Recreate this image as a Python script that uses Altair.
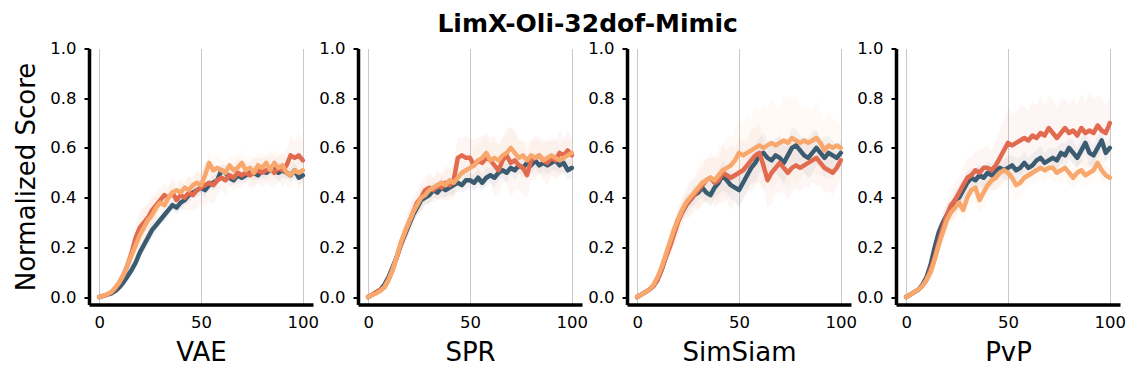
import altair as alt
import pandas as pd

steps = list(range(0, 101, 2))
panels = ["VAE", "SPR", "SimSiam", "PvP"]
methods = ["Baseline", "Variant A", "Variant B"]
palette = ["#3b5b71", "#e26a4e", "#f8a86c"]

# mean curves (one value every 2 steps)
vae_base = [0.00, 0.005, 0.01, 0.015, 0.025, 0.04, 0.06, 0.085, 0.11, 0.14,
            0.18, 0.21, 0.24, 0.27, 0.29, 0.31, 0.33, 0.35, 0.37, 0.36,
            0.38, 0.39, 0.41, 0.42, 0.43, 0.44, 0.43, 0.45, 0.46, 0.47,
            0.51, 0.50, 0.48, 0.47, 0.49, 0.48, 0.49, 0.50, 0.50, 0.49,
            0.51, 0.50, 0.51, 0.52, 0.50, 0.51, 0.50, 0.49, 0.51, 0.48,
            0.49]
vae_a = [0.00, 0.005, 0.01, 0.02, 0.035, 0.06, 0.09, 0.13, 0.18, 0.24,
         0.28, 0.30, 0.32, 0.35, 0.37, 0.39, 0.41, 0.40, 0.42, 0.39,
         0.41, 0.40, 0.42, 0.41, 0.43, 0.44, 0.45, 0.46, 0.45, 0.47,
         0.48, 0.47, 0.49, 0.48, 0.50, 0.49, 0.50, 0.49, 0.50, 0.51,
         0.50, 0.51, 0.52, 0.50, 0.52, 0.51, 0.53, 0.57, 0.56, 0.57,
         0.55]
vae_b = [0.00, 0.005, 0.012, 0.02, 0.04, 0.06, 0.09, 0.13, 0.17, 0.21,
         0.25, 0.28, 0.31, 0.33, 0.36, 0.38, 0.37, 0.40, 0.42, 0.43,
         0.42, 0.44, 0.43, 0.45, 0.46, 0.45, 0.49, 0.54, 0.51, 0.52,
         0.51, 0.50, 0.53, 0.51, 0.52, 0.54, 0.51, 0.52, 0.50, 0.53,
         0.52, 0.54, 0.51, 0.54, 0.52, 0.53, 0.50, 0.49, 0.51, 0.50,
         0.51]

spr_base = [0.00, 0.01, 0.02, 0.03, 0.05, 0.08, 0.12, 0.16, 0.21, 0.25,
            0.29, 0.33, 0.36, 0.39, 0.40, 0.41, 0.43, 0.42, 0.44, 0.43,
            0.44, 0.45, 0.46, 0.45, 0.47, 0.47, 0.46, 0.48, 0.46, 0.48,
            0.49, 0.48, 0.50, 0.51, 0.50, 0.52, 0.51, 0.53, 0.52, 0.54,
            0.53, 0.55, 0.53, 0.54, 0.53, 0.54, 0.55, 0.53, 0.54, 0.51,
            0.52]
spr_a = [0.00, 0.01, 0.02, 0.03, 0.04, 0.07, 0.11, 0.16, 0.21, 0.26,
         0.30, 0.34, 0.38, 0.40, 0.43, 0.44, 0.43, 0.45, 0.44, 0.46,
         0.45, 0.47, 0.56, 0.57, 0.56, 0.56, 0.53, 0.55, 0.54, 0.56,
         0.55, 0.53, 0.51, 0.55, 0.57, 0.54, 0.55, 0.53, 0.52, 0.49,
         0.55, 0.56, 0.57, 0.55, 0.54, 0.56, 0.55, 0.58, 0.57, 0.59,
         0.57]
spr_b = [0.00, 0.01, 0.015, 0.025, 0.04, 0.07, 0.11, 0.16, 0.22, 0.26,
         0.30, 0.34, 0.37, 0.40, 0.41, 0.43, 0.44, 0.45, 0.46, 0.45,
         0.47, 0.46, 0.48, 0.50, 0.51, 0.52, 0.53, 0.55, 0.56, 0.58,
         0.55, 0.56, 0.55, 0.57, 0.58, 0.60, 0.58, 0.56, 0.57, 0.55,
         0.57, 0.56, 0.57, 0.55, 0.56, 0.57, 0.56, 0.55, 0.56, 0.57,
         0.58]

sim_base = [0.00, 0.01, 0.02, 0.03, 0.045, 0.07, 0.11, 0.16, 0.21, 0.26,
            0.31, 0.34, 0.37, 0.39, 0.41, 0.42, 0.44, 0.42, 0.41, 0.44,
            0.46, 0.49, 0.47, 0.45, 0.44, 0.43, 0.46, 0.49, 0.52, 0.54,
            0.57, 0.58, 0.56, 0.55, 0.57, 0.56, 0.54, 0.57, 0.60, 0.61,
            0.59, 0.57, 0.56, 0.58, 0.60, 0.58, 0.56, 0.58, 0.57, 0.56,
            0.58]
sim_a = [0.00, 0.01, 0.02, 0.03, 0.045, 0.07, 0.11, 0.16, 0.20, 0.25,
         0.30, 0.34, 0.37, 0.39, 0.41, 0.43, 0.45, 0.47, 0.48, 0.46,
         0.47, 0.50, 0.49, 0.48, 0.49, 0.50, 0.51, 0.53, 0.55, 0.57,
         0.58, 0.53, 0.47, 0.50, 0.52, 0.54, 0.52, 0.50, 0.52, 0.53,
         0.52, 0.53, 0.54, 0.55, 0.56, 0.54, 0.52, 0.51, 0.50, 0.52,
         0.55]
sim_b = [0.00, 0.01, 0.02, 0.03, 0.05, 0.08, 0.12, 0.17, 0.22, 0.27,
         0.31, 0.35, 0.38, 0.40, 0.42, 0.44, 0.46, 0.47, 0.48, 0.47,
         0.49, 0.51, 0.52, 0.53, 0.55, 0.58, 0.57, 0.58, 0.59, 0.60,
         0.61, 0.60, 0.61, 0.62, 0.61, 0.62, 0.63, 0.62, 0.64, 0.63,
         0.62, 0.63, 0.62, 0.63, 0.64, 0.62, 0.59, 0.61, 0.60, 0.61,
         0.60]

pvp_base = [0.00, 0.01, 0.02, 0.03, 0.05, 0.08, 0.13, 0.20, 0.26, 0.30,
            0.33, 0.36, 0.39, 0.40, 0.43, 0.46, 0.48, 0.47, 0.49, 0.48,
            0.50, 0.49, 0.51, 0.52, 0.51, 0.52, 0.53, 0.51, 0.52, 0.54,
            0.52, 0.53, 0.55, 0.56, 0.54, 0.55, 0.56, 0.55, 0.58, 0.57,
            0.60, 0.58, 0.56, 0.59, 0.62, 0.58, 0.57, 0.60, 0.63, 0.58,
            0.60]
pvp_a = [0.00, 0.01, 0.02, 0.03, 0.045, 0.07, 0.11, 0.16, 0.22, 0.28,
         0.33, 0.37, 0.39, 0.42, 0.45, 0.48, 0.49, 0.51, 0.50, 0.52,
         0.52, 0.51, 0.53, 0.56, 0.59, 0.62, 0.61, 0.62, 0.63, 0.64,
         0.63, 0.65, 0.64, 0.66, 0.65, 0.68, 0.66, 0.64, 0.66, 0.68,
         0.66, 0.67, 0.65, 0.68, 0.66, 0.67, 0.66, 0.69, 0.67, 0.66,
         0.70]
pvp_b = [0.00, 0.01, 0.02, 0.03, 0.045, 0.07, 0.10, 0.15, 0.21, 0.26,
         0.31, 0.34, 0.36, 0.38, 0.35, 0.40, 0.43, 0.44, 0.39, 0.42,
         0.45, 0.47, 0.48, 0.50, 0.51, 0.50, 0.48, 0.45, 0.46, 0.48,
         0.49, 0.50, 0.51, 0.52, 0.51, 0.52, 0.52, 0.50, 0.51, 0.52,
         0.50, 0.48, 0.50, 0.51, 0.49, 0.50, 0.51, 0.54, 0.51, 0.49,
         0.48]

# half-widths of the shaded bands
vae_base_sd = [0, 0, 0.005, 0.01, 0.01, 0.015, 0.02, 0.02, 0.025, 0.03,
               0.03, 0.03, 0.03, 0.03, 0.03, 0.02, 0.03, 0.03, 0.02, 0.03,
               0.03, 0.02, 0.03, 0.02, 0.03, 0.02, 0.03, 0.02, 0.03, 0.03,
               0.02, 0.03, 0.03, 0.02, 0.03, 0.02, 0.03, 0.02, 0.03, 0.02,
               0.03, 0.03, 0.02, 0.03, 0.04, 0.03, 0.02, 0.03, 0.03, 0.03,
               0.03]
vae_a_sd = [0, 0, 0.005, 0.01, 0.015, 0.02, 0.03, 0.04, 0.05, 0.06,
            0.07, 0.06, 0.05, 0.06, 0.05, 0.04, 0.05, 0.04, 0.06, 0.05,
            0.06, 0.05, 0.07, 0.06, 0.08, 0.06, 0.09, 0.07, 0.08, 0.06,
            0.05, 0.06, 0.04, 0.05, 0.06, 0.05, 0.04, 0.05, 0.06, 0.05,
            0.06, 0.05, 0.07, 0.06, 0.05, 0.07, 0.06, 0.08, 0.07, 0.09,
            0.08]
vae_b_sd = [0, 0, 0.005, 0.01, 0.015, 0.02, 0.025, 0.03, 0.04, 0.05,
            0.06, 0.08, 0.07, 0.06, 0.05, 0.06, 0.05, 0.04, 0.05, 0.04,
            0.05, 0.04, 0.05, 0.04, 0.05, 0.04, 0.05, 0.05, 0.04, 0.05,
            0.04, 0.05, 0.04, 0.05, 0.06, 0.05, 0.04, 0.05, 0.06, 0.05,
            0.05, 0.04, 0.05, 0.06, 0.05, 0.04, 0.05, 0.06, 0.05, 0.07,
            0.06]

spr_base_sd = [0, 0, 0.005, 0.01, 0.01, 0.015, 0.02, 0.02, 0.03, 0.03,
               0.03, 0.03, 0.03, 0.04, 0.03, 0.04, 0.03, 0.03, 0.04, 0.03,
               0.03, 0.04, 0.03, 0.03, 0.04, 0.03, 0.03, 0.04, 0.03, 0.04,
               0.03, 0.04, 0.03, 0.03, 0.04, 0.03, 0.04, 0.03, 0.04, 0.03,
               0.04, 0.03, 0.04, 0.03, 0.04, 0.03, 0.04, 0.03, 0.04, 0.04,
               0.04]
spr_a_sd = [0, 0, 0.005, 0.01, 0.015, 0.02, 0.03, 0.03, 0.04, 0.05,
            0.05, 0.06, 0.05, 0.06, 0.05, 0.06, 0.05, 0.06, 0.05, 0.07,
            0.06, 0.07, 0.08, 0.07, 0.09, 0.08, 0.10, 0.09, 0.11, 0.10,
            0.09, 0.12, 0.10, 0.09, 0.11, 0.14, 0.12, 0.10, 0.11, 0.09,
            0.08, 0.09, 0.07, 0.08, 0.09, 0.07, 0.08, 0.09, 0.07, 0.08,
            0.07]
spr_b_sd = [0, 0, 0.005, 0.01, 0.015, 0.02, 0.03, 0.03, 0.04, 0.04,
            0.05, 0.05, 0.04, 0.05, 0.04, 0.05, 0.04, 0.05, 0.04, 0.05,
            0.05, 0.06, 0.05, 0.06, 0.07, 0.06, 0.07, 0.06, 0.08, 0.07,
            0.06, 0.07, 0.06, 0.08, 0.07, 0.09, 0.08, 0.07, 0.06, 0.07,
            0.06, 0.07, 0.06, 0.07, 0.06, 0.08, 0.07, 0.06, 0.07, 0.06,
            0.06]

sim_base_sd = [0, 0, 0.005, 0.01, 0.01, 0.015, 0.02, 0.02, 0.03, 0.03,
               0.03, 0.03, 0.04, 0.03, 0.04, 0.03, 0.04, 0.04, 0.05, 0.04,
               0.05, 0.06, 0.05, 0.06, 0.05, 0.07, 0.06, 0.07, 0.06, 0.08,
               0.07, 0.08, 0.07, 0.06, 0.07, 0.08, 0.09, 0.07, 0.08, 0.07,
               0.06, 0.07, 0.08, 0.09, 0.07, 0.06, 0.08, 0.07, 0.06, 0.05,
               0.05]
sim_a_sd = [0, 0, 0.005, 0.01, 0.015, 0.02, 0.03, 0.03, 0.04, 0.05,
            0.05, 0.06, 0.05, 0.07, 0.06, 0.08, 0.07, 0.09, 0.08, 0.10,
            0.09, 0.12, 0.10, 0.13, 0.11, 0.14, 0.12, 0.10, 0.13, 0.11,
            0.12, 0.10, 0.11, 0.13, 0.10, 0.12, 0.09, 0.11, 0.10, 0.09,
            0.10, 0.08, 0.10, 0.09, 0.11, 0.09, 0.10, 0.08, 0.09, 0.07,
            0.08]
sim_b_sd = [0, 0, 0.005, 0.01, 0.015, 0.02, 0.03, 0.03, 0.04, 0.04,
            0.05, 0.05, 0.06, 0.07, 0.06, 0.08, 0.10, 0.08, 0.11, 0.09,
            0.12, 0.10, 0.13, 0.11, 0.12, 0.14, 0.12, 0.15, 0.13, 0.16,
            0.14, 0.17, 0.15, 0.18, 0.16, 0.14, 0.17, 0.19, 0.16, 0.18,
            0.15, 0.13, 0.14, 0.12, 0.15, 0.13, 0.11, 0.14, 0.12, 0.10,
            0.09]

pvp_base_sd = [0, 0, 0.005, 0.01, 0.015, 0.02, 0.03, 0.03, 0.03, 0.04,
               0.04, 0.03, 0.04, 0.05, 0.04, 0.05, 0.04, 0.05, 0.04, 0.05,
               0.04, 0.05, 0.04, 0.03, 0.04, 0.05, 0.04, 0.05, 0.04, 0.05,
               0.04, 0.05, 0.04, 0.05, 0.04, 0.05, 0.04, 0.05, 0.04, 0.05,
               0.04, 0.05, 0.04, 0.05, 0.04, 0.05, 0.04, 0.05, 0.04, 0.04,
               0.04]
pvp_a_sd = [0, 0, 0.005, 0.01, 0.015, 0.02, 0.03, 0.04, 0.04, 0.05,
            0.05, 0.06, 0.07, 0.06, 0.07, 0.08, 0.07, 0.08, 0.09, 0.08,
            0.09, 0.08, 0.10, 0.11, 0.12, 0.14, 0.13, 0.12, 0.14, 0.13,
            0.12, 0.14, 0.13, 0.15, 0.12, 0.13, 0.14, 0.12, 0.13, 0.12,
            0.11, 0.13, 0.12, 0.14, 0.13, 0.15, 0.14, 0.12, 0.13, 0.11,
            0.10]
pvp_b_sd = [0, 0, 0.005, 0.01, 0.015, 0.02, 0.03, 0.03, 0.04, 0.04,
            0.05, 0.04, 0.05, 0.04, 0.05, 0.04, 0.05, 0.06, 0.05, 0.06,
            0.05, 0.04, 0.05, 0.06, 0.05, 0.06, 0.05, 0.06, 0.05, 0.04,
            0.05, 0.04, 0.05, 0.04, 0.05, 0.04, 0.05, 0.04, 0.05, 0.04,
            0.05, 0.04, 0.05, 0.04, 0.05, 0.04, 0.05, 0.04, 0.05, 0.04,
            0.04]

panel_means = {
    "VAE": [vae_base, vae_a, vae_b],
    "SPR": [spr_base, spr_a, spr_b],
    "SimSiam": [sim_base, sim_a, sim_b],
    "PvP": [pvp_base, pvp_a, pvp_b],
}
panel_sds = {
    "VAE": [vae_base_sd, vae_a_sd, vae_b_sd],
    "SPR": [spr_base_sd, spr_a_sd, spr_b_sd],
    "SimSiam": [sim_base_sd, sim_a_sd, sim_b_sd],
    "PvP": [pvp_base_sd, pvp_a_sd, pvp_b_sd],
}

y_ticks = [0.0, 0.2, 0.4, 0.6, 0.8, 1.0]
x_ticks = [0, 50, 100]
PW, PH = 224, 256


def make_panel(name, first):
    xs = alt.Scale(domain=[-5, 105], nice=False, zero=False)
    ys = alt.Scale(domain=[-0.03, 1.0], nice=False, zero=False)
    xaxis = alt.Axis(values=x_ticks, grid=True, gridColor="#c8c8c8", gridWidth=1,
                     ticks=False, labelPadding=10, title=name, titlePadding=8,
                     labelFlush=False)
    yaxis = alt.Axis(values=y_ticks, format=".1f", grid=False, ticks=True,
                     tickSize=5, tickWidth=2, labelPadding=8,
                     title="Normalized Score" if first else "", titlePadding=10)
    areas, lines = [], []
    for m, col, mean, sd in zip(methods, palette, panel_means[name], panel_sds[name]):
        df = pd.DataFrame({
            "step": steps,
            "score": mean,
            "lo": [a - b for a, b in zip(mean, sd)],
            "hi": [a + b for a, b in zip(mean, sd)],
            "method": m,
        })
        base = alt.Chart(df)
        areas.append(base.mark_area(color=col, opacity=0.06).encode(
            x=alt.X("step:Q", scale=xs, axis=xaxis),
            y=alt.Y("lo:Q", scale=ys, axis=yaxis),
            y2="hi:Q",
        ))
        lines.append(base.mark_line(color=col, strokeWidth=4.5, strokeJoin="round",
                                    strokeCap="round").encode(
            x=alt.X("step:Q", scale=xs, axis=xaxis),
            y=alt.Y("score:Q", scale=ys, axis=yaxis),
        ))
    return alt.layer(*areas, *lines).properties(width=PW, height=PH)


charts = [make_panel(p, i == 0) for i, p in enumerate(panels)]

chart = alt.hconcat(*charts, spacing=45, bounds="flush").properties(
    title=alt.TitleParams("LimX-Oli-32dof-Mimic", fontSize=25, fontWeight="bold",
                          anchor="middle", color="black", offset=3.5, dx=18),
    padding={"left": 5, "top": 3.5, "right": 5, "bottom": 5},
).configure(font="DejaVu Sans").configure_view(strokeWidth=0).configure_axis(
    domainColor="black", domainWidth=3.5, labelFontSize=16.5, labelColor="black",
    titleFontSize=26, titleFontWeight="normal", titleColor="black",
    tickColor="black",
)

chart.save("out.html", embed_options={"renderer": "svg", "actions": False})
